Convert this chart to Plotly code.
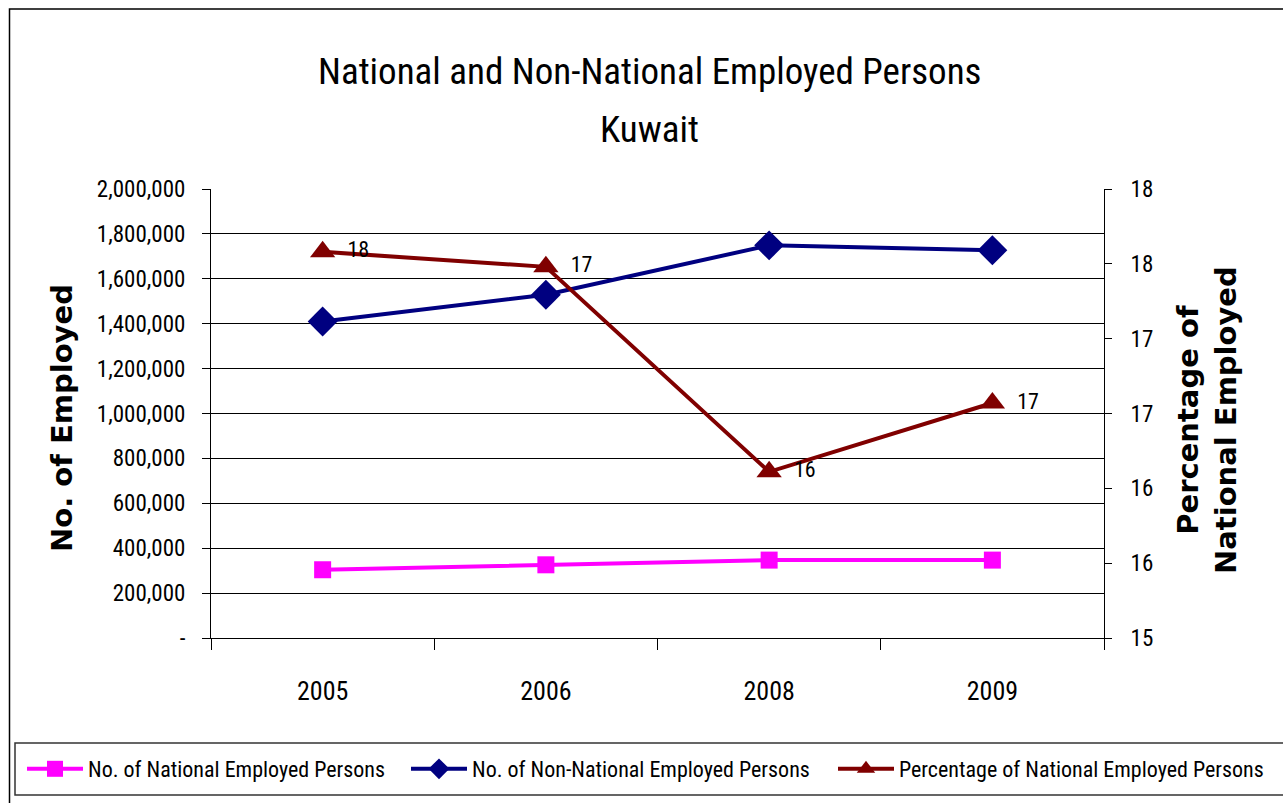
import plotly.graph_objects as go

years = ["2005", "2006", "2008", "2009"]
national = [304000, 326000, 347000, 347000]
non_national = [1410000, 1529000, 1749000, 1727000]
pct_national = [17.58, 17.48, 16.11, 16.57]

left_tick_vals = [0, 200000, 400000, 600000, 800000, 1000000, 1200000, 1400000, 1600000, 1800000, 2000000]
left_tick_text = ["-", "200,000", "400,000", "600,000", "800,000", "1,000,000", "1,200,000",
                  "1,400,000", "1,600,000", "1,800,000", "2,000,000"]
right_tick_vals = [15, 15.5, 16, 16.5, 17, 17.5, 18]
right_tick_text = ["15", "16", "16", "17", "17", "18", "18"]
category_boundaries = [0.5, 1.5, 2.5]

NARROW = "Liberation Sans Narrow, Roboto Condensed, Arial Narrow, sans-serif"
BOLD = "DejaVu Sans, Verdana, sans-serif"

W, H = 1283, 803
# pixel helpers for paper coordinates (plot area 211..1104 x 189..638)
L, R, T, B = 211, 1104, 189, 638
def px(x):
    return (x - L) / (R - L)
def py(y):
    return (B - y) / (B - T)

fig = go.Figure()
fig.add_trace(go.Scatter(
    x=years, y=national, name="No. of National Employed Persons",
    mode="lines+markers", line=dict(color="#FF00FF", width=4),
    marker=dict(symbol="square", size=17, color="#FF00FF"), yaxis="y", legend="legend"))
fig.add_trace(go.Scatter(
    x=years, y=non_national, name="No. of Non-National Employed Persons",
    mode="lines+markers", line=dict(color="#000080", width=4),
    marker=dict(symbol="diamond", size=23, color="#000080"), yaxis="y", legend="legend2"))
fig.add_trace(go.Scatter(
    x=years, y=pct_national, name="Percentage of National Employed Persons",
    mode="lines+markers+text", line=dict(color="#800000", width=4),
    marker=dict(symbol="triangle-up", size=22, color="#800000"),
    texttemplate="  %{y:.0f}", textposition="middle right",
    textfont=dict(family=NARROW, size=22, color="#000"), yaxis="y2", legend="legend3"))

def legend_at(x_px):
    return dict(orientation="h", xref="container", yref="container",
                x=x_px / W, xanchor="left", y=(H - 769) / H, yanchor="middle",
                font=dict(family=NARROW, size=22, color="#000"),
                bgcolor="rgba(0,0,0,0)", borderwidth=0, itemwidth=56)

fig.update_layout(
    width=W, height=H,
    margin=dict(l=L, r=W - R, t=T, b=H - B),
    paper_bgcolor="white", plot_bgcolor="white",
    font=dict(family=NARROW, color="#000"),
    showlegend=True,
    legend=legend_at(22), legend2=legend_at(406), legend3=legend_at(833),
    xaxis=dict(type="category", range=[-0.5, 3.5], showline=True, linecolor="#000", linewidth=1,
               ticks="outside", tickson="boundaries", ticklen=11, tickcolor="#000",
               showgrid=False, tickfont=dict(family=NARROW, size=26), ticklabelstandoff=30),
    xaxis2=dict(range=[-0.5, 3.5], overlaying="x", anchor="y", side="bottom",
                tickvals=category_boundaries, ticks="inside", ticklen=11, tickcolor="#000",
                showticklabels=False, showgrid=False, zeroline=False, showline=False),
    yaxis=dict(range=[0, 2000000], tickvals=left_tick_vals, ticktext=left_tick_text,
               showline=True, linecolor="#000", linewidth=1, ticks="outside", ticklen=8,
               tickcolor="#000", showgrid=True, gridcolor="#000", gridwidth=1,
               zeroline=False, tickfont=dict(family=NARROW, size=23), ticklabelstandoff=12),
    yaxis2=dict(range=[15, 18], tickvals=right_tick_vals, ticktext=right_tick_text,
                overlaying="y", side="right", showline=True, linecolor="#000", linewidth=1,
                ticks="outside", ticklen=7, tickcolor="#000", showgrid=False, zeroline=False,
                tickfont=dict(family=NARROW, size=23), ticklabelstandoff=14),
    yaxis3=dict(range=[15, 18], tickvals=right_tick_vals, overlaying="y", side="right",
                anchor="x", ticks="inside", ticklen=7, tickcolor="#000", showticklabels=False,
                showgrid=False, zeroline=False, showline=False),
)

annotations = [
    dict(text="National and Non-National Employed Persons", x=px(649), y=py(72),
         font=dict(family=NARROW, size=37, color="#000")),
    dict(text="Kuwait", x=px(649), y=py(130), font=dict(family=NARROW, size=37, color="#000")),
    dict(text="<b>No. of Employed</b>", x=px(62), y=py(418), textangle=-90,
         font=dict(family=BOLD, size=29, color="#000")),
    dict(text="<b>Percentage of<br>National Employed</b>", x=px(1207), y=py(420), textangle=-90,
         font=dict(family=BOLD, size=29, color="#000")),
]
for a in annotations:
    a.update(xref="paper", yref="paper", showarrow=False, xanchor="center", yanchor="middle")
fig.update_layout(annotations=annotations)

fig.update_layout(shapes=[
    dict(type="rect", xref="paper", yref="paper", x0=px(9.5), x1=px(1300), y0=py(820), y1=py(9),
         line=dict(color="#000", width=1.5), fillcolor="rgba(0,0,0,0)", layer="below"),
    dict(type="rect", xref="paper", yref="paper", x0=px(15), x1=px(1300), y0=py(795), y1=py(743),
         line=dict(color="#333", width=1.5), fillcolor="rgba(0,0,0,0)", layer="below"),
])

fig.write_html("out.html", config={"displayModeBar": False},
               post_script="document.body.style.margin='0';document.body.style.overflow='hidden';")
